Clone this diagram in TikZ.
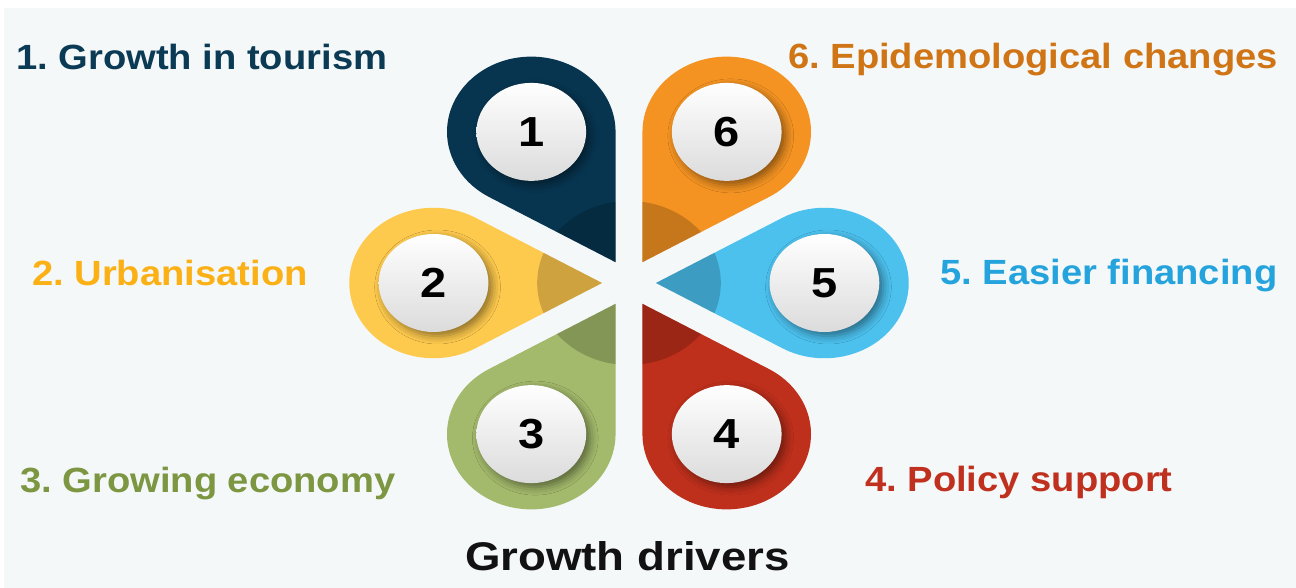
\documentclass[tikz,border=0pt]{standalone}
\usepackage{fontspec}
\setmainfont{Liberation Sans}
\usetikzlibrary{calc,shadows.blur}
\frenchspacing
\definecolor{bgc}{HTML}{F4F8F9}
\definecolor{pA}{HTML}{073550}
\definecolor{pB}{HTML}{FECA4E}
\definecolor{pC}{HTML}{A3B96B}
\definecolor{pD}{HTML}{BF301C}
\definecolor{pE}{HTML}{4CC1EE}
\definecolor{pF}{HTML}{F49322}
\definecolor{tA}{HTML}{0B3A55}
\definecolor{tB}{HTML}{FBB116}
\definecolor{tC}{HTML}{7D9642}
\definecolor{tD}{HTML}{C0301E}
\definecolor{tE}{HTML}{24A3DD}
\definecolor{tF}{HTML}{D07516}
\newcommand{\petalpath}[1]{(#1:24) -- ($(#1:174.5)+({#1-120}:75.25)$) arc[start angle={#1-120}, delta angle=240, radius=75.25] -- cycle}
\tikzset{
  numc/.style={circle, minimum size=98pt, inner sep=0pt, xscale=1.12,
    top color=white, bottom color=black!14,
    blur shadow={shadow xshift=4pt, shadow yshift=-4pt, shadow blur radius=8pt, shadow opacity=45},
    font=\fontsize{42}{42}\selectfont\bfseries, text=black},
  lbl/.style={anchor=base west, inner sep=0pt, xscale=1.09, font=\fontsize{35}{42}\selectfont\bfseries},
  ttl/.style={anchor=base west, inner sep=0pt, xscale=1.14, font=\fontsize{40}{48}\selectfont\bfseries, text=black!93}
}
\begin{document}
\frenchspacing
\begin{tikzpicture}[x=1pt,y=-1pt]
\useasboundingbox (0,0) rectangle (1296,588);
\fill[white] (0,0) rectangle (1296,588);
\fill[bgc] (4,8) rectangle (1296,588);
\begin{scope}[shift={(629,283)}, xscale=1.12, yscale=-1]
  \foreach \ang/\col/\nm in {120/pA/c1, 180/pB/c2, 240/pC/c3, 300/pD/c4, 0/pE/c5, 60/pF/c6}{
    \fill[\col] \petalpath{\ang};
    \begin{scope}
      \clip \petalpath{\ang};
      \fill[black, opacity=0.19] (0,0) circle[radius=82];
    \end{scope}
    \coordinate (\nm) at (\ang:174.5);
  }
\end{scope}
\node[numc] (n1) at (c1) {1};
\node[numc] (n2) at (c2) {2};
\node[numc] (n3) at (c3) {3};
\node[numc] (n4) at (c4) {4};
\node[numc] (n5) at (c5) {5};
\node[numc] (n6) at (c6) {6};
\node[lbl, text=tA] (l1) at (16,70) {1. Growth in tourism};
\node[lbl, text=tB] (l2) at (32,285) {2. Urbanisation};
\node[lbl, text=tC] (l3) at (20,492) {3. Growing economy};
\node[lbl, text=tD] (l4) at (865,491) {4. Policy support};
\node[lbl, text=tE] (l5) at (940,284) {5. Easier financing};
\node[lbl, text=tF] (l6) at (788,69) {6. Epidemological changes};
\node[ttl] (t) at (465,570) {Growth drivers};
\end{tikzpicture}
\end{document}
